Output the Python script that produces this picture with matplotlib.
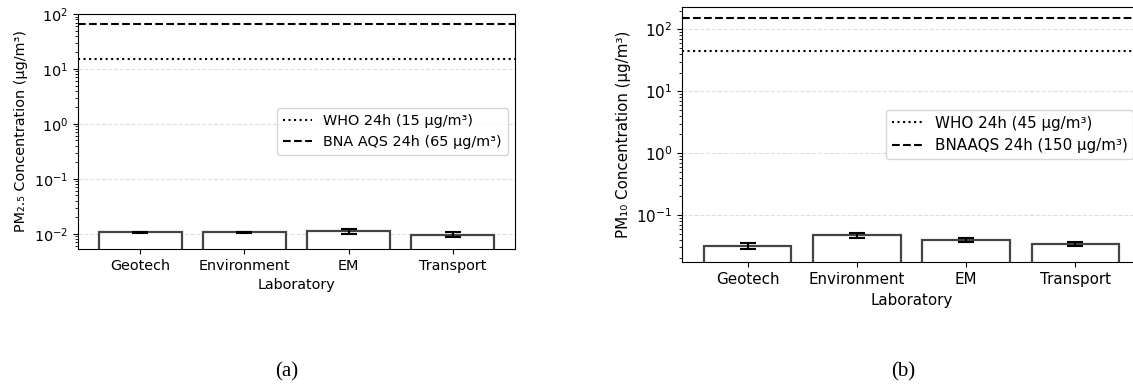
import numpy as np
import matplotlib
matplotlib.use("Agg")
import matplotlib.pyplot as plt

labs = ["Geotech", "Environment", "EM", "Transport"]

pm25_mean = [0.0106, 0.0106, 0.0112, 0.0097]
pm25_err = [0.0003, 0.0003, 0.0013, 0.0011]
pm10_mean = [0.0316, 0.0476, 0.0394, 0.0340]
pm10_err = [0.0038, 0.0045, 0.0030, 0.0029]

who_25, bna_25 = 15, 65
who_10, bna_10 = 45, 150

W, H = 1133, 388
fig = plt.figure(figsize=(W / 100, H / 100), dpi=100)


def box(x0, y0, x1, y1):
    return [x0 / W, (H - y1) / H, (x1 - x0) / W, (y1 - y0) / H]


def panel(ax, mean, err, who, bna, who_lab, bna_lab, ylab, ylim, fs):
    x = np.arange(len(labs))
    ax.bar(x, mean, width=0.8, color="white", edgecolor="#444444", linewidth=1.6,
           yerr=err, capsize=6, error_kw=dict(ecolor="black", elinewidth=1.5, capthick=1.5))
    ax.axhline(who, color="black", ls=":", lw=1.5, label=who_lab)
    ax.axhline(bna, color="black", ls="--", lw=1.5, label=bna_lab)
    ax.set_yscale("log")
    ax.set_ylim(*ylim)
    ax.set_xlim(-0.6, 3.6)
    ax.set_xticks(x)
    ax.set_xticklabels(labs, fontsize=fs)
    ax.tick_params(axis="y", labelsize=fs)
    ax.set_xlabel("Laboratory", fontsize=fs)
    ax.set_ylabel(ylab, fontsize=fs)
    ax.grid(axis="y", which="major", ls="--", color="#cccccc", alpha=0.6, lw=0.8)
    ax.set_axisbelow(True)
    ax.legend(loc="center right", fontsize=fs)


ax1 = fig.add_axes(box(78, 14, 515, 249))
panel(ax1, pm25_mean, pm25_err, who_25, bna_25,
      "WHO 24h (15 µg/m³)", "BNA AQS 24h (65 µg/m³)",
      "PM₂.₅ Concentration (µg/m³)", (0.0053, 100), 10.4)

ax2 = fig.add_axes(box(682, 6.7, 1141, 262.3))
panel(ax2, pm10_mean, pm10_err, who_10, bna_10,
      "WHO 24h (45 µg/m³)", "BNAAQS 24h (150 µg/m³)",
      "PM₁₀ Concentration (µg/m³)", (0.0172, 232), 10.9)

fig.text(287 / W, 1 - 372 / H, "(a)", family="Liberation Serif", fontsize=15, ha="center", va="center")
fig.text(903 / W, 1 - 372 / H, "(b)", family="Liberation Serif", fontsize=15, ha="center", va="center")

fig.savefig("out.png", dpi=100)
